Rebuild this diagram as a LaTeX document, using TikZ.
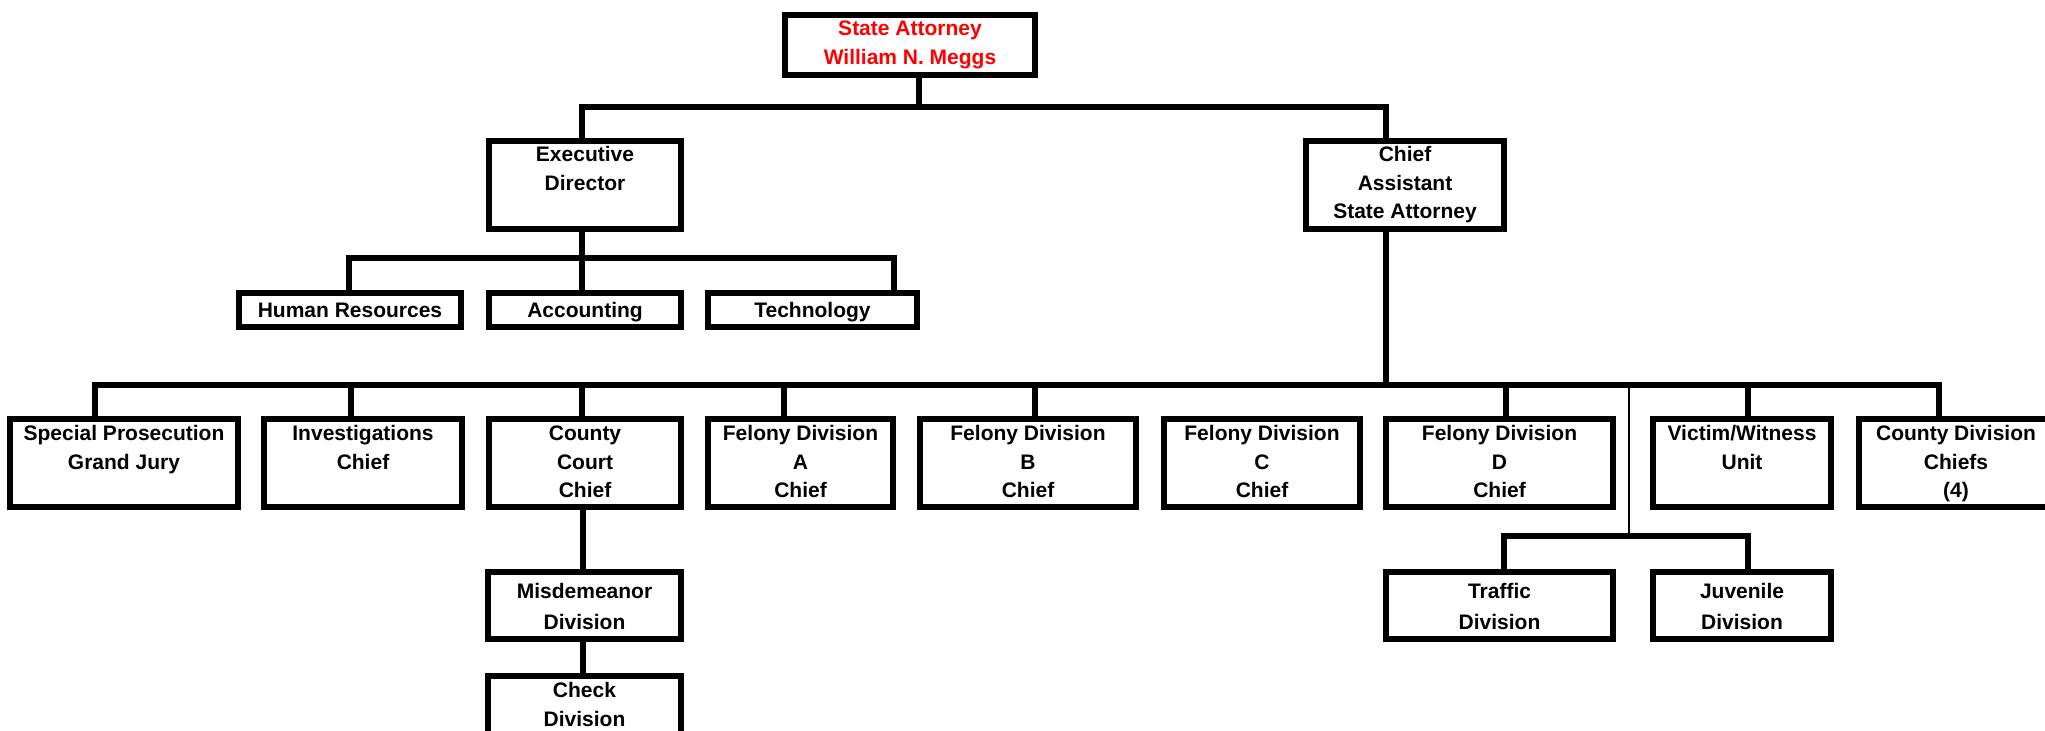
\documentclass[tikz,border=0pt]{standalone}
\usepackage{fontspec}
\setmainfont{Liberation Sans}
\usetikzlibrary{calc}

\begin{document}
\begin{tikzpicture}[x=0.5pt,y=-0.5pt,
  office/.style={draw,line width=3pt,anchor=north,inner sep=0pt,align=center,
    font=\fontsize{10.5pt}{14.25pt}\selectfont\bfseries},
  tall/.style={office,text height=25.25pt,text depth=18.75pt},
  taller/.style={office,text height=39.5pt,text depth=4.5pt},
  wide/.style={office,text height=12.5pt,text depth=4.5pt},
  lower/.style={office,text height=28.75pt,text depth=4.75pt,
    font=\fontsize{10.5pt}{15.5pt}\selectfont\bfseries},
  wire/.style={line width=2.75pt},
  thin wire/.style={line width=0.75pt}]
\useasboundingbox (0,0) rectangle (2045,731);
\clip (0,0) rectangle (2045,731);

\node[office,text=red,text height=24.75pt,text depth=5.25pt,minimum width=125pt]
  (sa) at (910,12) {State Attorney\\William N. Meggs};
\node[office,text height=24.75pt,text depth=19.25pt,minimum width=96pt]
  (exec) at (585,138) {Executive\\Director};
\node[office,text height=39pt,text depth=5pt,minimum width=99pt]
  (chief) at (1405,138) {Chief\\Assistant\\State Attorney};

% administration
\node[wide,minimum width=111pt] (hr) at (350,290) {Human Resources};
\node[wide,minimum width=96pt] (acct) at (585,290) {Accounting};
\node[wide,minimum width=104.5pt] (tech) at (812.5,290) {Technology};

% legal divisions
\node[tall,minimum width=114pt] (spgj) at (124,416) {Special Prosecution\\Grand Jury};
\node[tall,minimum width=99pt] (inv) at (363,416) {Investigations\\Chief};
\node[taller,minimum width=96pt] (ccc) at (585,416) {County\\Court\\Chief};
\node[taller,minimum width=92.5pt] (fela) at (800.5,416) {Felony Division\\A\\Chief};
\node[taller,minimum width=108pt] (felb) at (1028,416) {Felony Division\\B\\Chief};
\node[taller,minimum width=98pt] (felc) at (1262,416) {Felony Division\\C\\Chief};
\node[taller,minimum width=113.5pt] (feld) at (1499.5,416) {Felony Division\\D\\Chief};
\node[tall,minimum width=89pt] (vwu) at (1742,416) {Victim/Witness\\Unit};
\node[taller,minimum width=97pt] (cdc) at (1956,416) {County Division\\Chiefs\\(4)};

\node[lower,minimum width=96.5pt] (misd) at (584.5,569) {Misdemeanor\\Division};
\node[office,text height=25pt,text depth=20.5pt,minimum width=96.5pt,
  font=\fontsize{10.5pt}{14.5pt}\selectfont\bfseries]
  (chk) at (584.5,673) {Check\\Division};
\node[lower,minimum width=113.5pt] (traf) at (1499.5,569) {Traffic\\Division};
\node[lower,minimum width=89pt] (juv) at (1742,569) {Juvenile\\Division};

% connectors
\coordinate (top bus) at (919,107);
\draw[wire] ($(sa.south)+(9,0)$) -- (top bus);
\draw[wire] ($(exec.north)+(-3,0)$) |- (top bus) -| ($(chief.north)+(-19,0)$);

\coordinate (adm bus) at (582,258);
\draw[wire] ($(exec.south)+(-3,0)$) -- ($(acct.north)+(-3,0)$);
\draw[wire] ($(hr.north)+(-1,0)$) |- (adm bus) -| ($(tech.north)+(81.5,0)$);

\coordinate (legal bus) at (1386,385);
\draw[wire] ($(chief.south)+(-19,0)$) -- (legal bus);
\draw[wire] ($(spgj.north)+(-29,0)$) |- (legal bus) -| ($(cdc.north)+(-17,0)$);
\foreach \n/\dx in {inv/-12,ccc/-3,fela/-16.5,felb/7,feld/6.5,vwu/6}
  \draw[wire] ($(\n.north)+(\dx,0)$) coordinate (t) -- (t |- legal bus);

\draw[wire] ($(ccc.south)+(-2,0)$) -- ($(misd.north)+(-1.5,0)$);
\draw[wire] ($(misd.south)+(-1.5,0)$) -- ($(chk.north)+(-1.5,0)$);

\coordinate (sub bus) at (1629,536);
\draw[thin wire] (legal bus -| sub bus) -- (sub bus);
\draw[wire] ($(traf.north)+(4.5,0)$) |- (sub bus) -| ($(juv.north)+(6,0)$);
\end{tikzpicture}
\end{document}
